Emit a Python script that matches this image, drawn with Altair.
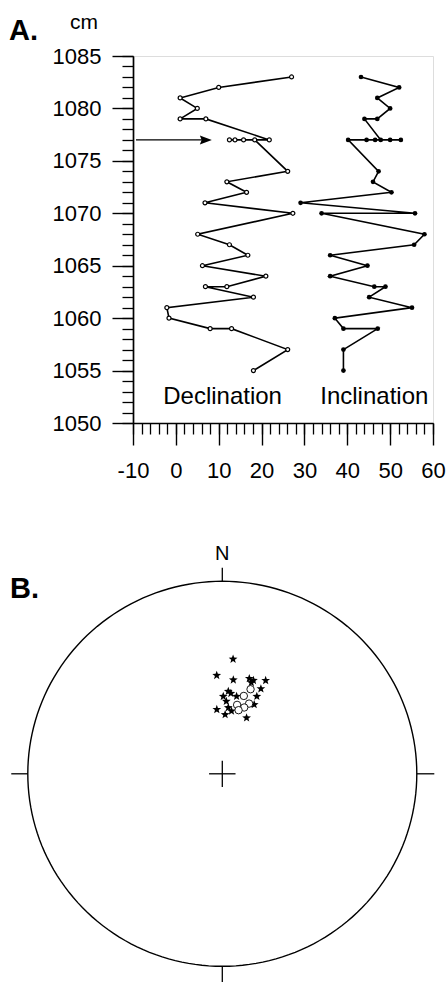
import math
import altair as alt
import pandas as pd

# ---------------- Panel A: declination / inclination down core ----------------
dec_depth = [1083, 1082, 1081, 1080, 1079, 1079, 1077, 1077, 1077, 1077, 1077,
             1074, 1073, 1072, 1071, 1070, 1068, 1067, 1066, 1065, 1064, 1063,
             1063, 1062, 1061, 1060, 1059, 1059, 1057, 1055]
dec_value = [27.0, 10.0, 1.0, 5.0, 1.0, 7.0, 21.8, 12.5, 13.8, 15.8, 18.4,
             26.1, 11.9, 16.5, 6.8, 27.3, 5.1, 12.5, 16.8, 6.2, 21.0, 11.9,
             6.9, 18.1, -2.1, -1.6, 8.0, 13.0, 26.1, 18.1]

inc_depth = [1083, 1082, 1081, 1080, 1079, 1079, 1077, 1077, 1077, 1077, 1077, 1077,
             1074, 1073, 1072, 1071, 1070, 1070, 1068, 1067, 1066, 1065, 1064,
             1063, 1063, 1062, 1061, 1060, 1059, 1059, 1057, 1055]
inc_value = [43.2, 52.1, 47.0, 50.0, 47.0, 44.0, 47.8, 52.5, 50.0, 46.5, 44.5, 40.2,
             47.3, 46.0, 50.3, 29.1, 55.8, 34.0, 58.0, 55.6, 36.0, 44.7, 36.0,
             46.3, 48.9, 45.1, 55.1, 37.1, 39.1, 47.1, 39.1, 39.1]

# arrow pointing at the replicate-sample level
arrow_depth = 1077
arrow_from = -9.3
arrow_to = 8.4

series_labels = ["Declination", "Inclination"]
series_label_x = [10.9, 46.3]
series_label_depth = 1052.5

x_major_ticks = list(range(-10, 61, 10))
x_minor_ticks = list(range(-10, 61, 2))
y_major_ticks = list(range(1050, 1086, 5))
y_minor_ticks = list(range(1050, 1086, 1))

# ---------------- Panel B: equal-area stereonet ----------------
star_dec = [5.3, 356.8, 6.6, 15.6, 18.2, 24.6, 24.1, 4.1, 0.7, 10.3, 23.7,
            3.1, 5.1, 355.2, 2.7, 23.1, 24.4, 8.2, 6.0, 17.4]
star_inc = [39.8, 47.4, 49.2, 47.2, 47.5, 45.5, 49.8, 54.5, 56.8, 56.2, 53.6,
            58.9, 61.6, 62.4, 64.7, 64.0, 57.4, 62.9, 55.3, 48.7]
ring_dec = [18.3, 15.3, 20.7, 18.1, 12.0, 14.2]
ring_inc = [51.8, 55.5, 58.0, 60.3, 60.0, 62.1]

# ---------------- layout ----------------
PAD_L, PAD_T = 133, 56
PLOT_W, PLOT_H = 300, 367
PAGE_W, PAGE_H = 447, 982
NET_CX, NET_CY = 222.3, 773.8      # stereonet centre on the page
NET_RX, NET_RY = 194.5, 192.5      # primitive circle radius
FONT = "Liberation Sans"


def schmidt(dec, inc):
    """Lower-hemisphere equal-area projection onto a unit primitive circle."""
    r = math.sqrt(2) * math.sin(math.radians(90 - inc) / 2)
    return r * math.sin(math.radians(dec)), r * math.cos(math.radians(dec))


def star_path(inner=0.42):
    """Five-pointed star symbol inside the [-1, 1] box."""
    pts = []
    for k in range(10):
        r = 1.0 if k % 2 == 0 else inner
        a = math.radians(-90 + 36 * k)
        pts.append(f"{r * math.cos(a):.3f} {r * math.sin(a) + 0.08:.3f}")
    return "M " + " L ".join(pts) + " Z"


# ---------- Panel A ----------
xs = alt.Scale(domain=[-10, 60], nice=False, zero=False)
ys = alt.Scale(domain=[1050, 1085], nice=False, zero=False)

axis_style = dict(grid=False, domainColor="black", tickColor="black",
                  labelColor="black", labelFont=FONT, labelFontSize=22,
                  labelFlush=False, labelOverlap=False)

x_major = alt.Axis(orient="bottom", values=x_major_ticks, tickSize=22, tickWidth=1.4,
                   domainWidth=1.7, labelPadding=15, labelExpr="'' + datum.value",
                   title=None, **axis_style)
x_minor = alt.Axis(orient="bottom", values=x_minor_ticks, tickSize=11, tickWidth=1.3,
                   domain=False, labels=False, title=None, **axis_style)
y_major = alt.Axis(orient="left", values=y_major_ticks, tickSize=21, tickWidth=1.4,
                   domainWidth=1.7, labelPadding=11, labelExpr="'' + datum.value",
                   title="cm", titleAngle=0,
                   titleX=83.5 - PAD_L, titleY=28 - PAD_T, titleAlign="center",
                   titleBaseline="alphabetic", titleFont=FONT, titleFontSize=21,
                   titleFontWeight="normal", titleColor="black", **axis_style)
y_minor = alt.Axis(orient="left", values=y_minor_ticks, tickSize=11, tickWidth=1.3,
                   domain=False, labels=False, title=None, **axis_style)

dec_df = pd.DataFrame({"seq": range(len(dec_depth)), "depth": dec_depth, "value": dec_value})
inc_df = pd.DataFrame({"seq": range(len(inc_depth)), "depth": inc_depth, "value": inc_value})


def ax(field, scale, axis=None):
    return alt.X(field, scale=scale, axis=axis)


def ay(field, scale, axis=None):
    return alt.Y(field, scale=scale, axis=axis)


dec_line = alt.Chart(dec_df).mark_line(color="black", strokeWidth=1.6).encode(
    x=ax("value:Q", xs, x_major), y=ay("depth:Q", ys, y_major), order="seq:Q",
)
dec_pts = alt.Chart(dec_df).mark_point(
    shape="circle", filled=True, fill="white", stroke="black", strokeWidth=1.2,
    size=16, opacity=1
).encode(x=ax("value:Q", xs, x_minor), y=ay("depth:Q", ys, y_minor))
inc_line = alt.Chart(inc_df).mark_line(color="black", strokeWidth=1.6).encode(
    x=ax("value:Q", xs), y=ay("depth:Q", ys), order="seq:Q",
)
inc_pts = alt.Chart(inc_df).mark_circle(color="black", size=22, opacity=1).encode(
    x=ax("value:Q", xs), y=ay("depth:Q", ys),
)

arrow_df = pd.DataFrame({"x0": [arrow_from], "x1": [arrow_to], "depth": [arrow_depth]})
arrow_shaft = alt.Chart(arrow_df).mark_rule(color="black", strokeWidth=1.4, x2Offset=-6).encode(
    x=ax("x0:Q", xs), x2="x1:Q", y=ay("depth:Q", ys),
)
arrow_head = alt.Chart(arrow_df).mark_point(
    shape="M -1 -0.75 L 1 0 L -1 0.75 L -0.7 0 Z", filled=True, color="black",
    size=144, opacity=1, xOffset=-6
).encode(x=ax("x1:Q", xs), y=ay("depth:Q", ys))

label_df = pd.DataFrame({"label": series_labels, "x": series_label_x,
                         "depth": [series_label_depth] * len(series_labels)})
series_text = alt.Chart(label_df).mark_text(
    font=FONT, fontSize=24, color="black", align="center", baseline="middle"
).encode(x=ax("x:Q", xs), y=ay("depth:Q", ys), text="label:N")

tag_a = alt.Chart(pd.DataFrame({"t": ["A."]})).mark_text(
    font=FONT, fontSize=29, fontWeight="bold", color="black", align="left",
    baseline="alphabetic"
).encode(x=alt.value(9 - PAD_L), y=alt.value(39.5 - PAD_T), text="t:N")

# ---------- Panel B ----------
sx = alt.Scale(domain=[-(NET_CX - PAD_L) / NET_RX, (PLOT_W - (NET_CX - PAD_L)) / NET_RX],
               nice=False, zero=False)
sy = alt.Scale(domain=[(NET_CY - PAD_T - PLOT_H) / NET_RY, (NET_CY - PAD_T) / NET_RY],
               nice=False, zero=False)

circle_df = pd.DataFrame({"seq": list(range(181))})
circle_df["sx"] = [math.sin(math.radians(2 * i)) for i in circle_df["seq"]]
circle_df["sy"] = [math.cos(math.radians(2 * i)) for i in circle_df["seq"]]

tick_df = pd.DataFrame({
    "sx": [0.0, 0.0, -1.0, 1.0, -0.068, 0.0],
    "sx2": [0.0, 0.0, -1.085, 1.09, 0.068, 0.0],
    "sy": [1.0, -1.0, 0.0, 0.0, 0.0, -0.068],
    "sy2": [1.07, -1.09, 0.0, 0.0, 0.0, 0.068],
})

star_xy = [schmidt(d, i) for d, i in zip(star_dec, star_inc)]
star_df = pd.DataFrame({"sx": [p[0] for p in star_xy], "sy": [p[1] for p in star_xy]})
ring_xy = [schmidt(d, i) for d, i in zip(ring_dec, ring_inc)]
ring_df = pd.DataFrame({"sx": [p[0] for p in ring_xy], "sy": [p[1] for p in ring_xy]})

net = alt.Chart(circle_df).mark_line(color="black", strokeWidth=1.4).encode(
    x=ax("sx:Q", sx), y=ay("sy:Q", sy), order="seq:Q",
)
ticks = alt.Chart(tick_df).mark_rule(color="black", strokeWidth=1.3).encode(
    x=ax("sx:Q", sx), x2="sx2:Q", y=ay("sy:Q", sy), y2="sy2:Q",
)
stars = alt.Chart(star_df).mark_point(
    shape=star_path(), filled=True, color="black", size=85, opacity=1
).encode(x=ax("sx:Q", sx), y=ay("sy:Q", sy))
rings = alt.Chart(ring_df).mark_point(
    shape="circle", filled=True, fill="white", stroke="black", strokeWidth=0.9,
    size=55, opacity=1
).encode(x=ax("sx:Q", sx), y=ay("sy:Q", sy))
north = alt.Chart(pd.DataFrame({"sx": [0.0], "sy": [1.14], "t": ["N"]})).mark_text(
    font=FONT, fontSize=20, color="black", align="center", baseline="middle"
).encode(x=ax("sx:Q", sx), y=ay("sy:Q", sy), text="t:N")
tag_b = alt.Chart(pd.DataFrame({"t": ["B."]})).mark_text(
    font=FONT, fontSize=29, fontWeight="bold", color="black", align="left",
    baseline="alphabetic"
).encode(x=alt.value(10 - PAD_L), y=alt.value(598 - PAD_T), text="t:N")

chart = alt.layer(
    dec_line, dec_pts, inc_line, inc_pts, arrow_shaft, arrow_head, series_text, tag_a,
    net, ticks, stars, rings, north, tag_b,
).resolve_scale(
    x="independent", y="independent"
).properties(
    width=PLOT_W,
    height=PLOT_H,
    autosize=alt.AutoSizeParams(type="none"),
    padding={"left": PAD_L, "top": PAD_T,
             "right": PAGE_W - PAD_L - PLOT_W, "bottom": PAGE_H - PAD_T - PLOT_H},
    background="white",
).configure_view(strokeWidth=0).configure(font=FONT)

chart.save("out.html", embed_options={"renderer": "svg", "actions": False})
